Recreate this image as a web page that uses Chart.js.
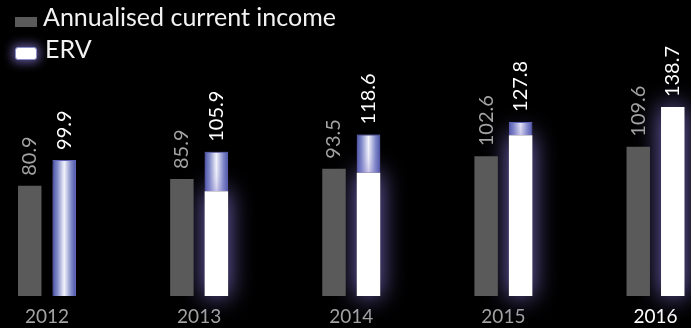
<!DOCTYPE html>
<html>
<head>
<meta charset="utf-8">
<script src="https://cdn.jsdelivr.net/npm/chart.js@4/dist/chart.umd.min.js"></script>
<style>
  html, body { margin: 0; padding: 0; background: #000; }
  #wrap { position: relative; width: 691px; height: 328px; overflow: hidden; background: #000; }
  #chart { position: absolute; left: 0; top: 0; }
  .legend { position: absolute; left: 0; top: 0; font-family: Lato, sans-serif; font-size: 25px; color: #f2f2f2; }
  .legend .item { position: absolute; white-space: nowrap; line-height: 25px; }
  .legend .swatch { position: absolute; }
</style>
</head>
<body>
<div id="wrap">
  <canvas id="chart" width="691" height="328"></canvas>
  <div class="legend">
    <div class="swatch" style="left:15px;top:17px;width:22px;height:10px;background:#5a5a5a;"></div>
    <div class="item" style="left:43px;top:4px;">Annualised current income</div>
    <div class="swatch" style="left:15px;top:47px;width:20px;height:11px;background:#fff;border:1px solid #8a90c8;border-radius:3px;box-shadow:0 0 10px 3px rgba(120,105,190,0.75);"></div>
    <div class="item" style="left:45px;top:36px;">ERV</div>
  </div>
</div>
<script>
const years = ['2012', '2013', '2014', '2015', '2016'];
const annualisedIncome = [80.9, 85.9, 93.5, 102.6, 109.6];
const erv = [99.9, 105.9, 118.6, 127.8, 138.7];
// lower, solid white part of each ERV bar (rest of the bar is the glowing part)
const ervSolid = [0, 77, 90.5, 118, 138.7];
const ervGlow = erv.map((v, i) => +(v - ervSolid[i]).toFixed(1));

const greyBar = '#5a5a5a';
const greyText = '#a3a3a3';

function glowFill(c) {
  const el = c.element;
  if (!el || !isFinite(el.x) || !isFinite(el.width)) return '#8a93d0';
  const g = c.chart.ctx.createLinearGradient(el.x - el.width / 2, 0, el.x + el.width / 2, 0);
  g.addColorStop(0, '#4a54a6');
  g.addColorStop(0.2, '#7f88c8');
  g.addColorStop(0.5, '#f2f3fb');
  g.addColorStop(0.8, '#7f88c8');
  g.addColorStop(1, '#4a54a6');
  return g;
}

// soft halo behind the ERV bars
const glow = {
  id: 'glow',
  beforeDatasetDraw(chart, args) {
    if (args.index === 0) return;
    chart.ctx.save();
    chart.ctx.shadowColor = 'rgba(125,110,200,1)';
    chart.ctx.shadowBlur = 24;
  },
  afterDatasetDraw(chart, args) {
    if (args.index === 0) return;
    chart.ctx.restore();
  }
};

// vertical value labels above bars
const valueLabels = {
  id: 'valueLabels',
  afterDatasetsDraw(chart) {
    const ctx = chart.ctx;
    ctx.save();
    ctx.font = '20px Lato';
    ctx.textAlign = 'left';
    ctx.textBaseline = 'middle';
    const draw = (el, text, color) => {
      ctx.save();
      ctx.translate(el.x, el.y - 10);
      ctx.rotate(-Math.PI / 2);
      ctx.fillStyle = color;
      ctx.fillText(text, 0, 0);
      ctx.restore();
    };
    chart.getDatasetMeta(0).data.forEach((el, i) => draw(el, annualisedIncome[i].toFixed(1), greyText));
    chart.getDatasetMeta(2).data.forEach((el, i) => draw(el, erv[i].toFixed(1), '#fff'));
    ctx.restore();
  }
};

const chart = new Chart(document.getElementById('chart'), {
  type: 'bar',
  data: {
    labels: years,
    datasets: [
      {
        label: 'Annualised current income',
        data: annualisedIncome,
        stack: 'income',
        order: 0,
        backgroundColor: greyBar,
        borderWidth: 0,
        clip: false,
      },
      {
        label: 'ERV',
        data: ervSolid,
        stack: 'erv',
        order: 1,
        backgroundColor: '#ffffff',
        borderWidth: 0,
        clip: false,
      },
      {
        label: 'ERV glow',
        data: ervGlow,
        stack: 'erv',
        order: 2,
        backgroundColor: glowFill,
        borderColor: '#5660b4',
        borderWidth: (c) => (c.raw > 0 ? 1 : 0),
        clip: false,
      },
    ],
  },
  options: {
    responsive: false,
    animation: false,
    categoryPercentage: 0.4536,
    barPercentage: 0.68,
    layout: { padding: { left: 47, right: 35.5, top: 23.6, bottom: 0 } },
    plugins: {
      legend: { display: false },
      tooltip: { enabled: false },
    },
    scales: {
      x: {
        offset: false,
        stacked: true,
        grid: { display: false, drawTicks: false },
        border: { display: false },
        ticks: {
          color: years.map((y, i) => (i === years.length - 1 ? '#ffffff' : greyText)),
          font: { family: 'Lato', size: 19 },
          padding: 9,
          maxRotation: 0,
          autoSkip: false,
        },
        afterFit: (s) => { s.height = 32; },
      },
      y: { display: false, stacked: true, min: 0, max: 200 },
    },
  },
  plugins: [glow, valueLabels],
});
chart.update();
</script>
</body>
</html>
